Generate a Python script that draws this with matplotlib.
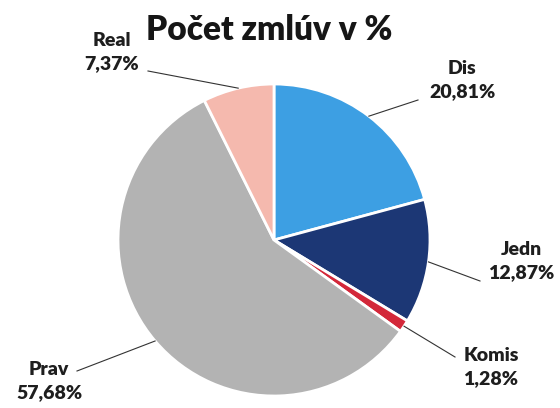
import matplotlib
matplotlib.use('Agg')
import matplotlib.pyplot as plt
import numpy as np

categories = ['Dis', 'Jedn', 'Komis', 'Prav', 'Real']
shares = [20.81, 12.87, 1.28, 57.68, 7.37]
colors = ['#3d9fe3', '#1c3775', '#d3283a', '#b3b3b3', '#f5b9ae']
title = 'Počet zmlúv v %'

# layout in pixels (x from left, y from top)
W, H = 560, 408
cx, cy, r = 274, 240, 156
label_pos = {'Dis': (462, 80), 'Jedn': (521, 261), 'Komis': (491, 367),
             'Prav': (49, 381), 'Real': (112, 52)}
leader_end = {'Dis': (418, 100), 'Jedn': (480, 281), 'Komis': (455, 357),
              'Prav': (77, 371), 'Real': (148, 71)}

plt.rcParams['font.family'] = ['Lato', 'DejaVu Sans']

fig = plt.figure(figsize=(W / 100, H / 100), dpi=100)
ax = fig.add_axes([0, 0, 1, 1])

wedges, _ = ax.pie(shares, colors=colors, startangle=90, counterclock=False,
                   center=(cx, H - cy), radius=r,
                   wedgeprops=dict(edgecolor='white', linewidth=2))
# pie() sets its own limits, so put the pixel frame back afterwards
ax.set_xlim(0, W)
ax.set_ylim(0, H)
ax.set_aspect('equal')
ax.axis('off')

for w, name, v in zip(wedges, categories, shares):
    mid = np.deg2rad((w.theta1 + w.theta2) / 2)
    x0 = cx + r * np.cos(mid)
    y0 = (H - cy) + r * np.sin(mid)
    ex, ey = leader_end[name]
    ax.plot([x0, ex], [y0, H - ey], color='#333333', lw=0.8)
    lx, ly = label_pos[name]
    txt = name + '\n' + f'{v:.2f}'.replace('.', ',') + '%'
    ax.text(lx, H - ly, txt, ha='center', va='center', fontsize=14,
            fontweight='heavy', color='#1e1e1e', linespacing=1.45)

ax.text(269, H - 30, title, ha='center', va='center', fontsize=24,
        fontweight='heavy', color='#161616')

fig.savefig('out.png', dpi=100)
